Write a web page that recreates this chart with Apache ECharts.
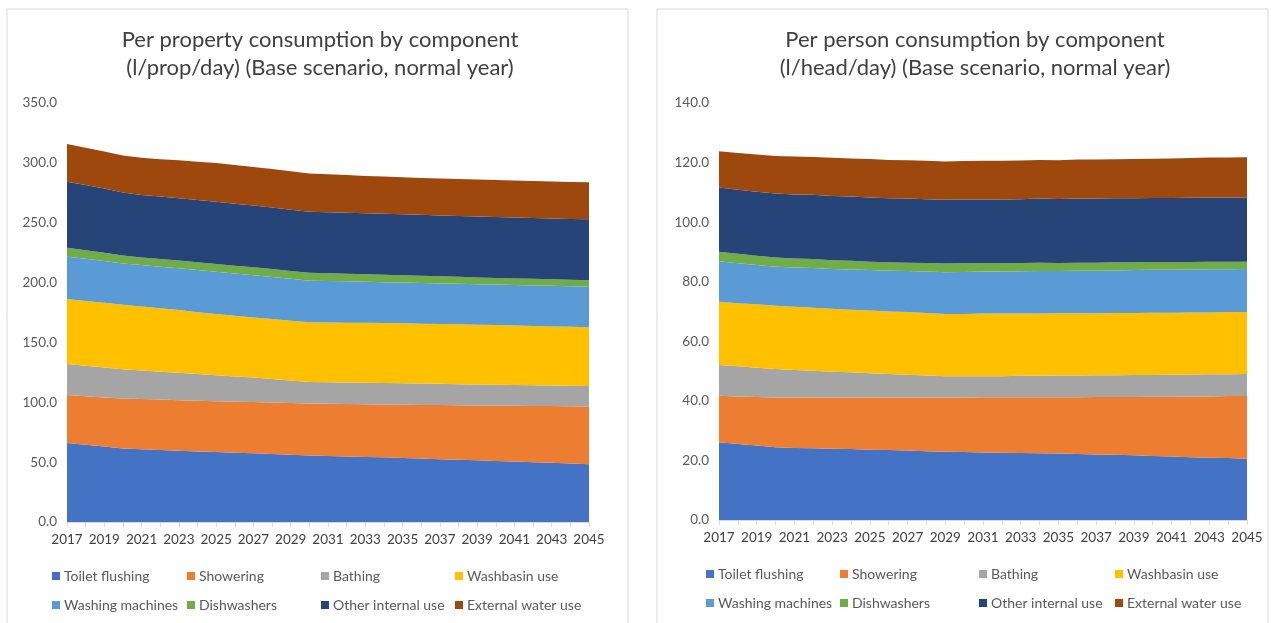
<!DOCTYPE html>
<html>
<head>
<meta charset="utf-8">
<title>Consumption by component</title>
<script src="https://cdn.jsdelivr.net/npm/echarts@6/dist/echarts.min.js"></script>
<style>
  html, body { margin: 0; padding: 0; background: #ffffff; }
  #chart { width: 1271px; height: 623px; }
</style>
</head>
<body>
<div id="chart"></div>
<script>
// Years on the category axis
const years = [];
for (let y = 2017; y <= 2045; y++) years.push(String(y));

const componentNames = ['Toilet flushing', 'Showering', 'Bathing', 'Washbasin use',
  'Washing machines', 'Dishwashers', 'Other internal use', 'External water use'];
const componentColors = ['#4472C4', '#ED7D31', '#A5A5A5', '#FFC000',
  '#5B9BD5', '#70AD47', '#264478', '#9E480E'];

// Per property consumption (l/prop/day), 2017..2045
const propToilet = [66.0, 64.5, 63.0, 61.5, 60.7, 60.1, 59.5, 58.9, 58.4, 57.9, 57.4, 56.8, 56.2, 55.6, 55.2, 54.8, 54.4, 54.0, 53.5, 53.0, 52.5, 52.0, 51.5, 51.0, 50.5, 50.0, 49.4, 48.8, 48.2];
const propShower = [40.0, 40.5, 41.0, 41.7, 42.1, 42.2, 42.3, 42.4, 42.4, 42.6, 42.8, 43.0, 43.2, 43.4, 43.6, 43.8, 44.0, 44.2, 44.5, 44.8, 45.2, 45.5, 45.9, 46.2, 46.6, 46.9, 47.4, 47.8, 48.2];
const propBath = [26.0, 25.5, 25.0, 24.4, 23.8, 23.3, 22.8, 22.3, 21.8, 21.1, 20.4, 19.6, 18.8, 18.0, 18.0, 18.0, 18.0, 17.9, 17.8, 17.8, 17.7, 17.6, 17.5, 17.4, 17.3, 17.3, 17.2, 17.2, 17.2];
const propBasin = [54.3, 54.2, 54.1, 53.9, 53.4, 52.9, 52.4, 51.7, 51.1, 50.7, 50.3, 50.1, 49.9, 49.8, 49.9, 49.9, 50.0, 50.1, 50.2, 50.1, 50.0, 50.0, 49.9, 49.9, 49.8, 49.6, 49.4, 49.2, 49.0];
const propMachines = [35.3, 35.1, 34.9, 34.5, 34.6, 34.8, 35.0, 35.2, 35.3, 35.3, 35.3, 35.2, 35.0, 34.8, 34.6, 34.5, 34.2, 34.1, 34.0, 33.9, 33.9, 33.9, 33.8, 33.8, 33.8, 33.8, 33.9, 34.0, 34.0];
const propDish = [7.5, 7.2, 6.9, 6.6, 6.4, 6.4, 6.4, 6.5, 6.5, 6.5, 6.6, 6.6, 6.6, 6.6, 6.5, 6.4, 6.3, 6.2, 6.1, 6.0, 5.9, 5.8, 5.7, 5.6, 5.5, 5.5, 5.4, 5.4, 5.4];
const propOther = [55.2, 54.5, 53.6, 52.7, 52.2, 52.1, 52.1, 52.0, 52.0, 51.8, 51.6, 51.4, 51.2, 51.0, 51.0, 51.0, 51.0, 51.0, 51.0, 51.0, 50.9, 50.9, 50.9, 50.9, 50.9, 50.8, 50.8, 50.8, 50.8];
const propExternal = [31.4, 31.2, 31.0, 30.8, 31.0, 31.3, 31.6, 32.0, 32.3, 32.3, 32.2, 32.2, 32.1, 32.0, 31.7, 31.5, 31.2, 31.0, 30.8, 30.8, 30.8, 30.8, 30.8, 30.8, 30.9, 30.9, 30.9, 30.9, 30.9];

// Per person consumption (l/head/day), 2017..2045
const headToilet = [26.1, 25.5, 25.0, 24.4, 24.2, 24.1, 23.9, 23.8, 23.6, 23.5, 23.3, 23.1, 22.9, 22.8, 22.7, 22.6, 22.5, 22.4, 22.3, 22.2, 22.0, 21.9, 21.7, 21.5, 21.3, 21.1, 20.9, 20.8, 20.6];
const headShower = [15.6, 16.0, 16.3, 16.7, 16.9, 17.0, 17.2, 17.3, 17.5, 17.6, 17.8, 18.0, 18.2, 18.3, 18.5, 18.6, 18.7, 18.8, 18.9, 19.0, 19.3, 19.4, 19.6, 19.9, 20.1, 20.4, 20.6, 20.8, 21.0];
const headBath = [10.3, 10.1, 9.8, 9.6, 9.3, 9.0, 8.7, 8.5, 8.2, 7.9, 7.7, 7.4, 7.2, 7.2, 7.1, 7.1, 7.2, 7.2, 7.3, 7.3, 7.3, 7.3, 7.4, 7.3, 7.4, 7.3, 7.4, 7.3, 7.4];
const headBasin = [21.3, 21.2, 21.3, 21.2, 21.2, 21.2, 21.1, 21.0, 21.0, 21.0, 21.0, 21.0, 20.9, 20.9, 21.0, 21.0, 20.9, 20.9, 20.9, 20.9, 20.8, 20.9, 20.8, 20.9, 20.8, 20.9, 20.8, 20.9, 20.8];
const headMachines = [13.6, 13.4, 13.2, 13.1, 13.2, 13.3, 13.4, 13.5, 13.6, 13.7, 13.8, 13.9, 14.0, 14.1, 14.1, 14.1, 14.2, 14.3, 14.2, 14.3, 14.3, 14.3, 14.4, 14.4, 14.4, 14.4, 14.5, 14.4, 14.5];
const headDish = [3.2, 3.2, 3.1, 3.1, 3.0, 3.0, 2.9, 2.9, 2.8, 2.8, 2.8, 2.9, 2.9, 2.9, 2.8, 2.8, 2.8, 2.8, 2.7, 2.7, 2.7, 2.7, 2.6, 2.6, 2.6, 2.5, 2.5, 2.5, 2.4];
const headOther = [21.5, 21.5, 21.5, 21.5, 21.5, 21.6, 21.6, 21.6, 21.6, 21.5, 21.5, 21.4, 21.4, 21.4, 21.4, 21.4, 21.4, 21.5, 21.5, 21.5, 21.5, 21.5, 21.5, 21.5, 21.5, 21.6, 21.6, 21.6, 21.6];
const headExternal = [12.2, 12.3, 12.5, 12.6, 12.7, 12.7, 12.8, 12.8, 12.9, 12.9, 12.9, 12.9, 12.9, 12.9, 13.0, 13.0, 13.0, 13.0, 13.0, 13.1, 13.1, 13.1, 13.2, 13.2, 13.3, 13.3, 13.4, 13.4, 13.5];

const propSeries = [propToilet, propShower, propBath, propBasin, propMachines, propDish, propOther, propExternal];
const headSeries = [headToilet, headShower, headBath, headBasin, headMachines, headDish, headOther, headExternal];

const FONT = 'Lato';
const labelGrey = '#595959';

function xAxisFor(gridIndex) {
  return {
    type: 'category', gridIndex, data: years, boundaryGap: false,
    axisLine: { lineStyle: { color: '#d9d9d9', width: 1 } },
    axisTick: { show: true, interval: 0, length: 5, lineStyle: { color: '#d9d9d9' } },
    axisLabel: { interval: 1, color: '#404040', fontFamily: FONT, fontSize: 13.5, margin: 11 },
    splitLine: { show: false }
  };
}
function yAxisFor(gridIndex, max, interval) {
  return {
    type: 'value', gridIndex, min: 0, max, interval,
    axisLine: { show: false }, axisTick: { show: false },
    splitLine: { show: false },
    axisLabel: { color: labelGrey, fontFamily: FONT, fontSize: 13.5, margin: 10,
      formatter: v => v.toFixed(1) }
  };
}
function stackSeries(values, gridIdx, stackName) {
  return values.map((arr, i) => ({
    name: componentNames[i], type: 'line', stack: stackName,
    xAxisIndex: gridIdx, yAxisIndex: gridIdx,
    data: arr, symbol: 'none', smooth: false,
    lineStyle: { width: 0 },
    itemStyle: { color: componentColors[i] },
    areaStyle: { color: componentColors[i], opacity: 1 },
    emphasis: { disabled: true }
  }));
}
// Four legend columns of two rows each
function legendColumns(lefts, top) {
  const cols = [[0, 4], [1, 5], [2, 6], [3, 7]];
  return cols.map((idx, c) => ({
    orient: 'vertical', left: lefts[c], top, height: 80, width: 160,
    padding: 0,
    data: idx.map(i => componentNames[i]),
    selectedMode: false, icon: 'rect', itemWidth: 8, itemHeight: 8,
    itemGap: 15,
    textStyle: { color: labelGrey, fontFamily: FONT, fontSize: 14, padding: [0, 0, 0, -1] }
  }));
}

const titleStyle = { color: '#404040', fontFamily: FONT, fontSize: 22, fontWeight: 'normal', lineHeight: 28 };

const option = {
  animation: false,
  backgroundColor: '#ffffff',
  graphic: [
    { type: 'rect', shape: { x: 7, y: 9, width: 621, height: 640 },
      style: { fill: 'none', stroke: '#d9d9d9', lineWidth: 1 }, silent: true, z: -1 },
    { type: 'rect', shape: { x: 657, y: 9, width: 611, height: 640 },
      style: { fill: 'none', stroke: '#d9d9d9', lineWidth: 1 }, silent: true, z: -1 }
  ],
  title: [
    { text: 'Per property consumption by component\n(l/prop/day) (Base scenario, normal year)',
      left: 315, top: 21, textAlign: 'center', textStyle: titleStyle },
    { text: 'Per person consumption by component\n(l/head/day) (Base scenario, normal year)',
      left: 970, top: 21, textAlign: 'center', textStyle: titleStyle }
  ],
  legend: [
    ...legendColumns([52, 187, 321, 455], 569),
    ...legendColumns([706, 840, 979, 1115], 567)
  ],
  grid: [
    { left: 67, top: 103, width: 522, height: 419 },
    { left: 719, top: 103, width: 528, height: 417 }
  ],
  xAxis: [xAxisFor(0), xAxisFor(1)],
  yAxis: [yAxisFor(0, 350, 50), yAxisFor(1, 140, 20)],
  series: [...stackSeries(propSeries, 0, 'prop'), ...stackSeries(headSeries, 1, 'head')]
};

const chart = echarts.init(document.getElementById('chart'), null, { renderer: 'canvas' });
chart.setOption(option);
</script>
</body>
</html>
